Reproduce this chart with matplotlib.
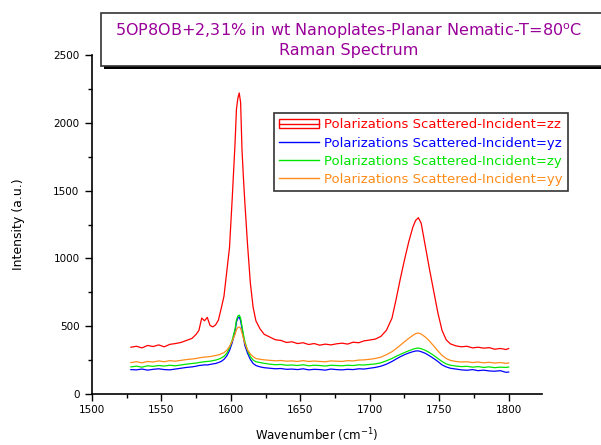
import matplotlib
matplotlib.use("Agg")
import matplotlib.pyplot as plt
from matplotlib.patches import Rectangle, Patch
from matplotlib.lines import Line2D
from matplotlib.ticker import MultipleLocator

## wavenumber grid (cm-1)
wavenumber = [1528, 1532, 1536, 1540, 1544, 1548, 1552, 1556, 1560, 1564, 1568, 1572,
              1575, 1577, 1579, 1581, 1583, 1585, 1587, 1589, 1591, 1593, 1595, 1597, 1599, 1601,
              1603, 1604, 1605, 1606, 1607, 1608, 1609, 1610,
              1612, 1614, 1616, 1618, 1621, 1624,
              1628, 1632, 1636, 1640, 1644, 1648, 1652, 1656, 1660, 1664, 1668, 1672,
              1676, 1680, 1684, 1688, 1692, 1696, 1700, 1704, 1708, 1712, 1716,
              1719, 1722, 1725, 1728, 1731, 1733, 1735, 1737,
              1740, 1743, 1746, 1749, 1752, 1755, 1758,
              1762, 1766, 1770, 1774, 1778, 1782, 1786, 1790, 1794, 1798, 1800]

zz = [345, 352, 340, 358, 350, 362, 348, 366, 372, 380, 395, 410,
      440, 470, 560, 540, 565, 505, 495, 510, 545, 630, 720, 900, 1080, 1450,
      1850, 2100, 2180, 2220, 2150, 1800, 1600, 1420,
      1100, 820, 640, 540, 480, 440,
      420, 400, 395, 380, 385, 372, 378, 365, 372, 360, 368, 362,
      370, 375, 368, 382, 378, 392, 398, 405, 425, 470, 560,
      700, 850, 990, 1120, 1230, 1280, 1300, 1260,
      1090, 920, 760, 600, 470, 400, 370,
      355, 348, 352, 340, 345, 338, 342, 330, 336, 328, 335]

yz = [180, 178, 184, 176, 182, 186, 180, 178, 184, 190, 196, 200,
      205, 210, 212, 215, 214, 218, 222, 225, 232, 240, 255, 280, 320, 380,
      460, 530, 560, 568, 540, 480, 420, 360,
      300, 255, 225, 210, 200, 194,
      190, 186, 188, 182, 184, 180, 186, 178, 182, 180, 176, 184,
      180, 178, 182, 180, 186, 184, 190, 196, 205, 220, 240,
      258, 275, 290, 302, 312, 317, 318, 312,
      300, 282, 262, 240, 215, 200, 190,
      184, 178, 175, 180, 172, 176, 170, 168, 172, 160, 162]

zy = [200, 205, 198, 208, 204, 210, 206, 212, 208, 214, 220, 225,
      228, 232, 235, 238, 240, 242, 246, 250, 256, 265, 278, 300, 340, 400,
      480, 545, 575, 582, 560, 500, 440, 390,
      320, 275, 250, 238, 232, 226,
      220, 216, 218, 212, 214, 210, 216, 208, 212, 210, 206, 212,
      210, 208, 212, 210, 215, 214, 218, 222, 230, 245, 262,
      278, 292, 306, 318, 330, 336, 339, 334,
      322, 305, 285, 262, 240, 222, 212,
      206, 202, 204, 198, 202, 196, 200, 194, 198, 196, 199]

yy = [232, 238, 230, 240, 236, 244, 238, 246, 242, 248, 254, 258,
      262, 266, 270, 272, 274, 276, 280, 284, 288, 296, 305, 322, 350, 390,
      440, 475, 490, 494, 485, 450, 410, 375,
      325, 295, 275, 262, 256, 252,
      248, 245, 247, 242, 244, 240, 246, 240, 243, 240, 238, 244,
      242, 240, 246, 244, 250, 252, 256, 262, 272, 290, 312,
      335, 360, 385, 410, 432, 445, 450, 442,
      420, 390, 355, 318, 285, 262, 248,
      240, 236, 238, 232, 236, 230, 234, 228, 232, 226, 229]

series = [zz, yz, zy, yy]
labels = ["Polarizations Scattered-Incident=zz",
          "Polarizations Scattered-Incident=yz",
          "Polarizations Scattered-Incident=zy",
          "Polarizations Scattered-Incident=yy"]
colors = ["#ff0000", "#0000ff", "#00e600", "#ff8c1a"]

title_lines = ["5OP8OB+2,31% in wt Nanoplates-Planar Nematic-T=80$^{\\rm o}$C",
               "Raman Spectrum"]

plt.rcParams['font.family'] = ['DejaVu Sans']

fig = plt.figure(figsize=(6.01, 4.45), dpi=100)
W, H = 601.0, 445.0
ax = fig.add_axes([92 / W, 1 - 394 / H, 450 / W, 339 / H])

for ys, c in zip(series, colors):
    ax.plot(wavenumber, ys, color=c, lw=0.9)

ax.set_xlim(1500, 1824)
ax.set_ylim(0, 2500)
ax.xaxis.set_major_locator(MultipleLocator(50))
ax.xaxis.set_minor_locator(MultipleLocator(25))
ax.yaxis.set_major_locator(MultipleLocator(500))
ax.yaxis.set_minor_locator(MultipleLocator(250))
ax.tick_params(which='both', direction='out', width=1.0, labelsize=7.5)
ax.tick_params(axis='y', pad=4)
ax.tick_params(axis='x', pad=3)
ax.tick_params(which='major', length=5)
ax.tick_params(which='minor', length=3)
for s in ['top', 'right']:
    ax.spines[s].set_visible(False)
for s in ['left', 'bottom']:
    ax.spines[s].set_linewidth(1.2)

ax.set_ylabel("Intensity (a.u.)", fontsize=9, labelpad=20)
ax.set_xlabel("Wavenumber (cm$^{-1}$)", fontsize=8.5, labelpad=8)

## legend, red entry has the box + line handle
red_handle = (Patch(fc='none', ec=colors[0], lw=1.0), Line2D([], [], color=colors[0], lw=1.0))
handles = [red_handle] + [Line2D([], [], color=c, lw=1.0) for c in colors[1:]]
leg = ax.legend(handles, labels, loc='upper left', bbox_to_anchor=(182 / 450, 1 - 58 / 339),
                fontsize=9.5, frameon=True, fancybox=False, handlelength=3.0,
                handletextpad=0.4, labelspacing=0.4, borderpad=0.4, borderaxespad=0)
leg.get_frame().set_edgecolor('black')
leg.get_frame().set_linewidth(1.2)
for t, c in zip(leg.get_texts(), colors):
    t.set_color(c)

## title box with shadow
fig.patches.append(Rectangle((104 / W, 1 - 69 / H), 510 / W, 53 / H, transform=fig.transFigure,
                             fc='black', ec='black', lw=0))
fig.patches.append(Rectangle((101 / W, 1 - 66 / H), 510 / W, 53 / H, transform=fig.transFigure,
                             fc='white', ec='#333333', lw=1.2))
fig.text(349 / W, 1 - 31 / H, title_lines[0], color='#990099', fontsize=11.5, ha='center', va='center')
fig.text(349 / W, 1 - 51 / H, title_lines[1], color='#990099', fontsize=11.5, ha='center', va='center')

fig.savefig("out.png", dpi=100)
